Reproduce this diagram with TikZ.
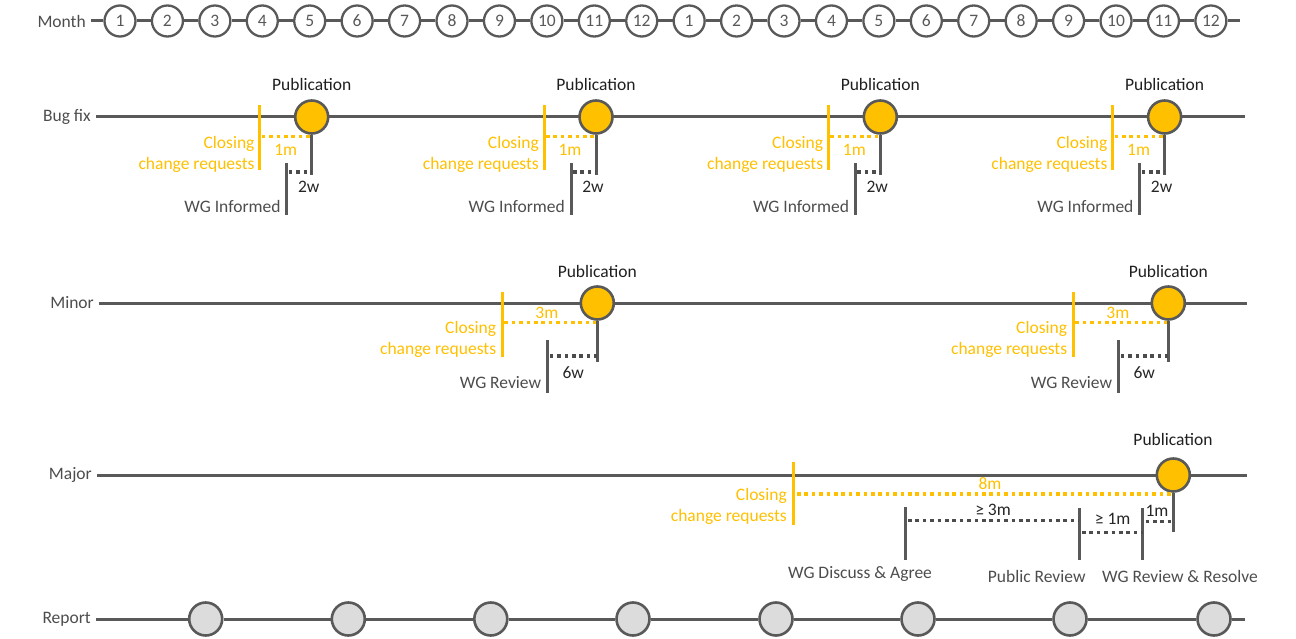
\documentclass[tikz,border=0pt]{standalone}
\usepackage{fontspec}
\setmainfont{Carlito}
\definecolor{trackgray}{HTML}{595959}
\definecolor{labelgray}{HTML}{4D4D4D}
\definecolor{spangray}{HTML}{262626}
\definecolor{pubyellow}{HTML}{FFC000}
\definecolor{reportfill}{HTML}{DCDCDC}
\tikzset{
  track/.style={draw=trackgray, line width=3pt},
  rowlabel/.style={anchor=east, inner xsep=5pt, inner ysep=0pt, text=labelgray},
  monthdot/.style={circle, draw=trackgray, line width=2.3pt, fill=white, minimum size=31pt, inner sep=0pt, text=trackgray},
  pubdot/.style={circle, draw=trackgray, line width=2.6pt, fill=pubyellow, minimum size=33pt, inner sep=0pt},
  reportdot/.style={circle, draw=trackgray, line width=2.6pt, fill=reportfill, minimum size=33pt, inner sep=0pt},
  milestone/.style={draw=trackgray, line width=3pt},
  closeline/.style={draw=pubyellow, line width=3pt},
  spanline/.style={draw=trackgray!85!black, line width=3.2pt, dash pattern=on 3.6pt off 3.8pt},
  closespan/.style={draw=pubyellow, line width=3.2pt, dash pattern=on 3.6pt off 3.8pt},
  pubtext/.style={inner sep=0pt, text=black!88},
  closetext/.style={anchor=east, inner sep=0pt, align=right, text=pubyellow},
  eventtext/.style={inner sep=0pt, text=labelgray},
  spantext/.style={inner sep=0pt, text=spangray},
  closespantext/.style={inner sep=0pt, text=pubyellow},
}
\begin{document}
\begin{tikzpicture}[x=1pt, y=-1pt, font=\fontsize{17.5}{21}\selectfont]
  \useasboundingbox (0,0) rectangle (1296,639);

  % months
  \node[rowlabel] (monthlabel) at (91,21) {Month};
  \foreach \i in {1,...,24} {
    \pgfmathsetmacro\mx{120+47.43*(\i-1)}
    \pgfmathtruncatemacro\mnum{mod(\i-1,12)+1}
    \node[monthdot] (m\i) at (\mx,21) {\mnum};
  }
  \coordinate (monthend) at (1240,21);
  \draw[track] (monthlabel.east) -- (m1);
  \foreach \i [count=\j from 2] in {1,...,23}
    \draw[track] (m\i) -- (m\j);
  \draw[track] (m24) -- (monthend);

  % bug fix
  \node[rowlabel] (bflabel) at (96,117) {Bug fix};
  \coordinate (bfend) at (1245,117);
  \draw[track] (bflabel.east) -- (bfend);
  \foreach \p [count=\i] in {311.7,596,880.3,1164.6} {
    \node[pubdot] (bfpub\i) at (\p,117) {};
    \node[pubtext] (bfpubtext\i) at (\p,84) {Publication};
    \coordinate (bfclosetop\i) at (\p-52,105);
    \coordinate (bfclosebot\i) at (\p-52,170);
    \draw[closeline] (bfclosetop\i) -- (bfclosebot\i);
    \coordinate (bfclosefrom\i) at (\p-50,136.5);
    \coordinate (bfcloseto\i) at (\p,136.5);
    \draw[closespan] (bfclosefrom\i) -- (bfcloseto\i);
    \node[closespantext] (bfclosespan\i) at (\p-26,150) {1m};
    \node[closetext] (bfclosetext\i) at (\p-57,154) {Closing\\change requests};
    \coordinate (bfpubfoot\i) at (\p,175);
    \draw[milestone] (bfpub\i.south) -- (bfpubfoot\i);
    \coordinate (bfinftop\i) at (\p-25,163);
    \coordinate (bfinfbot\i) at (\p-25,215);
    \draw[milestone] (bfinftop\i) -- (bfinfbot\i);
    \coordinate (bfinffrom\i) at (\p-23,172);
    \coordinate (bfinfto\i) at (\p,172);
    \draw[spanline] (bfinffrom\i) -- (bfinfto\i);
    \node[spantext] (bfinfspan\i) at (\p-3,187) {2w};
    \node[eventtext, anchor=east] (bfinftext\i) at (\p-31,206) {WG Informed};
  }

  % minor
  \node[rowlabel] (mnlabel) at (99,303) {Minor};
  \coordinate (mnend) at (1247,303);
  \draw[track] (mnlabel.east) -- (mnend);
  \foreach \p [count=\i] in {597.3,1168.3} {
    \node[pubdot] (mnpub\i) at (\p,303) {};
    \node[pubtext] (mnpubtext\i) at (\p,271) {Publication};
    \coordinate (mnclosetop\i) at (\p-95,292);
    \coordinate (mnclosebot\i) at (\p-95,357);
    \draw[closeline] (mnclosetop\i) -- (mnclosebot\i);
    \coordinate (mnclosefrom\i) at (\p-93,322.7);
    \coordinate (mncloseto\i) at (\p,322.7);
    \draw[closespan] (mnclosefrom\i) -- (mncloseto\i);
    \node[closespantext] (mnclosespan\i) at (\p-50.5,313) {3m};
    \node[closetext] (mnclosetext\i) at (\p-101,339) {Closing\\change requests};
    \coordinate (mnpubfoot\i) at (\p,361.7);
    \draw[milestone] (mnpub\i.south) -- (mnpubfoot\i);
    \coordinate (mnrevtop\i) at (\p-49.6,340);
    \coordinate (mnrevbot\i) at (\p-49.6,393);
    \draw[milestone] (mnrevtop\i) -- (mnrevbot\i);
    \coordinate (mnrevfrom\i) at (\p-47.6,356);
    \coordinate (mnrevto\i) at (\p,356);
    \draw[spanline] (mnrevfrom\i) -- (mnrevto\i);
    \node[spantext] (mnrevspan\i) at (\p-24,373) {6w};
    \node[eventtext, anchor=east] (mnrevtext\i) at (\p-56,382.7) {WG Review};
  }

  % major
  \node[rowlabel] (mjlabel) at (97,475) {Major};
  \coordinate (mjend) at (1247,475);
  \draw[track] (mjlabel.east) -- (mjend);
  \node[pubdot] (mjpub) at (1173.3,475) {};
  \node[pubtext] (mjpubtext) at (1173,439) {Publication};
  \coordinate (mjclosetop) at (793.3,461.7);
  \coordinate (mjclosebot) at (793.3,525);
  \draw[closeline] (mjclosetop) -- (mjclosebot);
  \coordinate (mjclosefrom) at (797,494);
  \coordinate (mjcloseto) at (1173.3,494);
  \draw[closespan] (mjclosefrom) -- (mjcloseto);
  \node[closespantext] (mjclosespan) at (990,483.5) {8m};
  \node[closetext] (mjclosetext) at (787,506.5) {Closing\\change requests};
  \coordinate (mjpubfoot) at (1173.3,531.7);
  \draw[milestone] (mjpub.south) -- (mjpubfoot);
  \coordinate (mjdisctop) at (905,507);
  \coordinate (mjdiscbot) at (905,560);
  \draw[milestone] (mjdisctop) -- (mjdiscbot);
  \coordinate (mjpubrtop) at (1079.3,508);
  \coordinate (mjpubrbot) at (1079.3,560);
  \draw[milestone] (mjpubrtop) -- (mjpubrbot);
  \coordinate (mjresotop) at (1142.7,508);
  \coordinate (mjresobot) at (1142.7,560);
  \draw[milestone] (mjresotop) -- (mjresobot);
  \coordinate (mjdiscfrom) at (908,520.5);
  \coordinate (mjdiscto) at (1079.3,520.5);
  \draw[spanline] (mjdiscfrom) -- (mjdiscto);
  \coordinate (mjpubrfrom) at (1082,532.7);
  \coordinate (mjpubrto) at (1142.7,532.7);
  \draw[spanline] (mjpubrfrom) -- (mjpubrto);
  \coordinate (mjresofrom) at (1145.5,521.7);
  \coordinate (mjresoto) at (1173.3,521.7);
  \draw[spanline] (mjresofrom) -- (mjresoto);
  \node[spantext] (mjdiscspan) at (993,510) {≥ 3m};
  \node[spantext] (mjpubrspan) at (1112.7,519) {≥ 1m};
  \node[spantext] (mjresospan) at (1157,510.7) {1m};
  \node[eventtext] (mjdisctext) at (860,574) {WG Discuss \& Agree};
  \node[eventtext] (mjpubrtext) at (1036.7,576) {Public Review};
  \node[eventtext] (mjresotext) at (1180,576) {WG Review \& Resolve};

  % report
  \node[rowlabel] (rplabel) at (96,619) {Report};
  \foreach \x [count=\i] in {205.7,348.3,490.8,633,776,918,1070,1214}
    \node[reportdot] (rp\i) at (\x,619) {};
  \coordinate (rpend) at (1245,619);
  \draw[track] (rplabel.east) -- (rp1);
  \foreach \i [count=\j from 2] in {1,...,7}
    \draw[track] (rp\i) -- (rp\j);
  \draw[track] (rp8) -- (rpend);
\end{tikzpicture}
\end{document}
